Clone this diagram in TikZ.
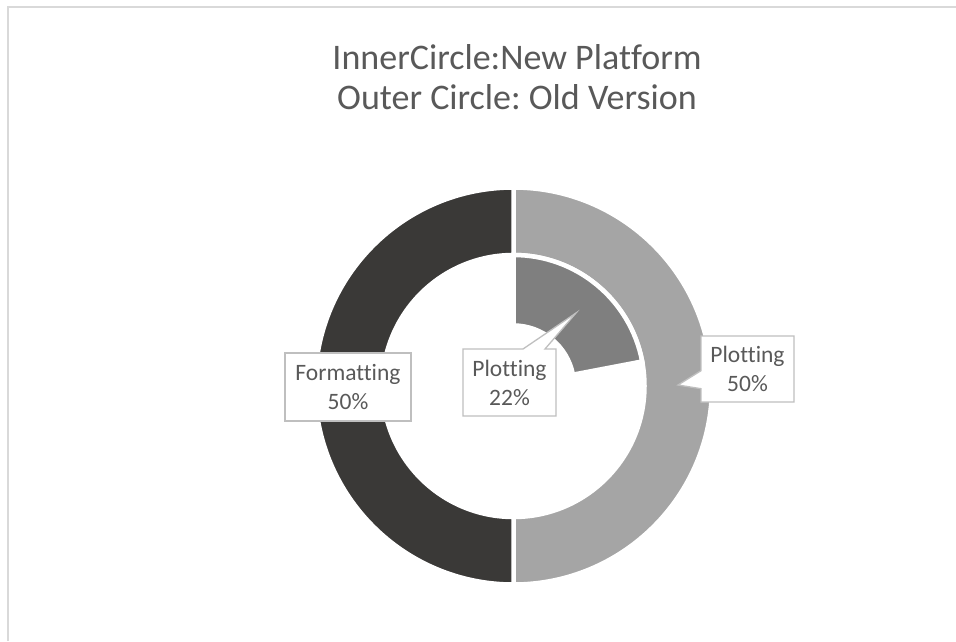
\documentclass[tikz,border=0pt]{standalone}
\usepackage{fontspec}
\setmainfont[Ligatures=NoCommon]{Carlito}
\usetikzlibrary{shapes,shapes.callouts}
\usepackage{xcolor}
\frenchspacing

\definecolor{darkslice}{HTML}{3A3937}
\definecolor{lightslice}{HTML}{A5A5A5}
\definecolor{midslice}{HTML}{7F7F7F}
\definecolor{textgray}{HTML}{595959}
\definecolor{boxgray}{HTML}{BFBFBF}
\definecolor{framegray}{HTML}{D9D9D9}

% ring segment: colour, start angle, end angle, outer radius, inner radius
\newcommand{\donutslice}[5]{
    \filldraw[fill=#1, draw=white, line width=4.5pt]
        ([shift={(#2:#4)}]centre) arc[start angle=#2, end angle=#3, radius=#4]
        -- ([shift={(#3:#5)}]centre) arc[start angle=#3, end angle=#2, radius=#5]
        -- cycle;
}

\begin{document}
\begin{tikzpicture}[x=1pt, y=1pt, every node/.style={
    rectangle,
    inner sep=0pt,
    text=textgray,
    align=center
}, lbl/.style={
    draw=boxgray,
    line width=1.3pt,
    fill=white,
    font=\fontsize{23.5}{29}\selectfont
}]
    \useasboundingbox (0,0) rectangle (956,641);
    \fill[white] (0,0) rectangle (956,641);
    \draw[framegray, line width=2pt] (8,0) |- (960,634);

    \coordinate (centre) at (513.5,255);

    \node (chart_title) [shift={(517,564)}, font=\fontsize{36}{40.5}\selectfont]
    {
        InnerCircle:New Platform\\
        Outer Circle: Old Version
    };

    % outer ring: old version
    \donutslice{lightslice}{90}{-90}{198.5}{131}
    \donutslice{darkslice}{90}{270}{198.5}{131}
    % inner ring: new platform
    \donutslice{midslice}{90}{10.8}{131}{60.5}

    \coordinate (inner_tip) at (576,328);
    \coordinate (outer_tip) at (678,256);

    \node (formatting_lbl) [lbl, minimum width=126, minimum height=68, shift={(348,254)}]
    {
        Formatting\\
        50\%
    };
    \node (plotting_inner_lbl) [lbl, rectangle callout, callout absolute pointer={(inner_tip)},
        callout pointer width=22pt, minimum width=93, minimum height=67, shift={(509.5,258.5)}]
    {
        Plotting\\
        22\%
    };
    \node (plotting_outer_lbl) [lbl, rectangle callout, callout absolute pointer={(outer_tip)},
        callout pointer width=18pt, minimum width=93, minimum height=66, shift={(747.5,272)}]
    {
        Plotting\\
        50\%
    };
\end{tikzpicture}
\end{document}
